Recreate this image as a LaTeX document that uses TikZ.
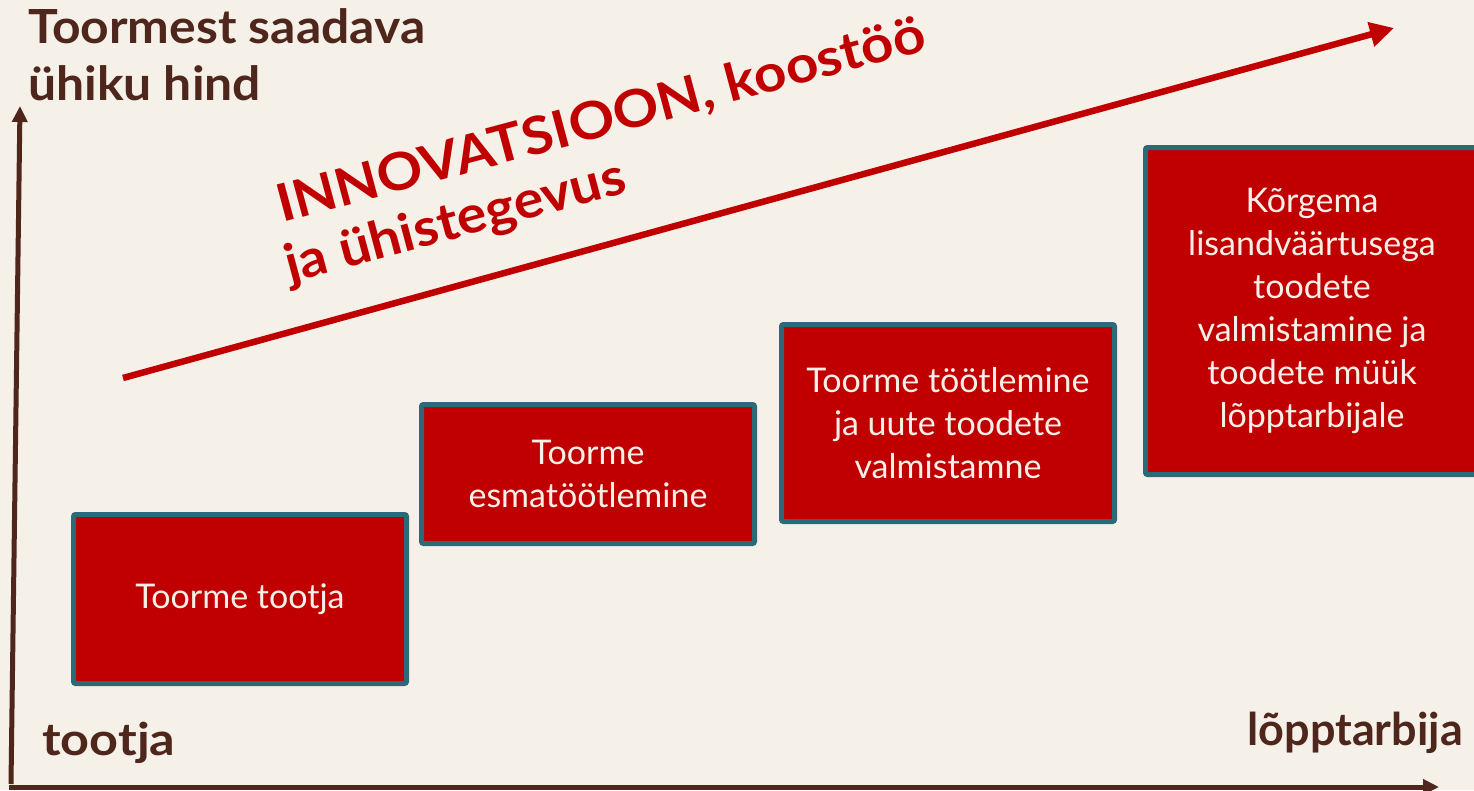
\documentclass[tikz,border=0pt]{standalone}
\usepackage{fontspec}
\setmainfont{Lato}
\usetikzlibrary{arrows.meta}
\definecolor{bgc}{RGB}{245,240,232}
\definecolor{brownc}{RGB}{79,38,28}
\definecolor{redc}{RGB}{192,0,0}
\definecolor{tealc}{RGB}{43,106,120}
\definecolor{creamc}{RGB}{248,240,232}
\tikzset{
  stagebox/.style={draw=tealc, line width=5pt, fill=redc, rounded corners=2pt,
    text=creamc, align=center, font=\fontsize{34}{43}\selectfont,
    minimum width=333pt, inner sep=0pt},
  axislabel/.style={text=brownc, font=\bfseries\fontsize{45}{54}\selectfont, inner sep=0pt},
  titlelabel/.style={text=brownc, font=\bfseries\fontsize{47}{57}\selectfont, inner sep=0pt, anchor=base west},
  axisline/.style={draw=brownc, line width=5pt},
  trendtext/.style={text=redc, font=\bfseries\fontsize{52}{60}\selectfont, inner sep=0pt, rotate=15, anchor=base west}
}
\begin{document}
\begin{tikzpicture}[x=1pt,y=-1pt]
\fill[bgc] (0,0) rectangle (1474,790);
\useasboundingbox (0,0) rectangle (1474,790);
% axes
\coordinate (ybot) at (11,784);
\coordinate (ytop) at (20,106);
\coordinate (xleft) at (9,787);
\coordinate (xright) at (1439,787);
\draw[axisline, -{Triangle[length=16pt,width=15pt]}] (ybot) -- (ytop);
\draw[axisline, -{Triangle[length=16pt,width=15pt]}] (xleft) -- (xright);
% title
\node[titlelabel] (title1) at (28,43) {\scalebox{1.06}[1]{Toormest saadava}};
\node[titlelabel] (title2) at (28,100) {\scalebox{1.06}[1]{ühiku hind}};
\node[axislabel, anchor=base west] (tootja) at (42,755) {\scalebox{1.12}[1]{tootja}};
\node[axislabel, anchor=base east] (lopp) at (1463,745) {lõpptarbija};
% trend arrow
\coordinate (tstart) at (123,378);
\coordinate (tend) at (1394,28);
\draw[redc, line width=6.5pt, -{Triangle[length=24pt,width=24pt]}] (tstart) -- (tend);
\node[trendtext] (inno) at (282,223) {\scalebox{1.09}[1]{INNOVATSIOON, koostöö}};
\node[trendtext] (ja) at (290,283) {\scalebox{1.07}[1]{ja ühistegevus}};
% boxes
\node[stagebox, minimum height=169pt] (b1) at (240,599) {Toorme tootja};
\node[stagebox, minimum height=139pt] (b2) at (588,474) {Toorme\\esmatöötlemine};
\node[stagebox, minimum height=197pt] (b3) at (948,423) {Toorme töötlemine\\ja uute toodete\\valmistamne};
\node[stagebox, minimum height=327pt] (b4) at (1312,311) {Kõrgema\\lisandväärtusega\\toodete\\valmistamine ja\\toodete müük\\lõpptarbijale};
\end{tikzpicture}
\end{document}
